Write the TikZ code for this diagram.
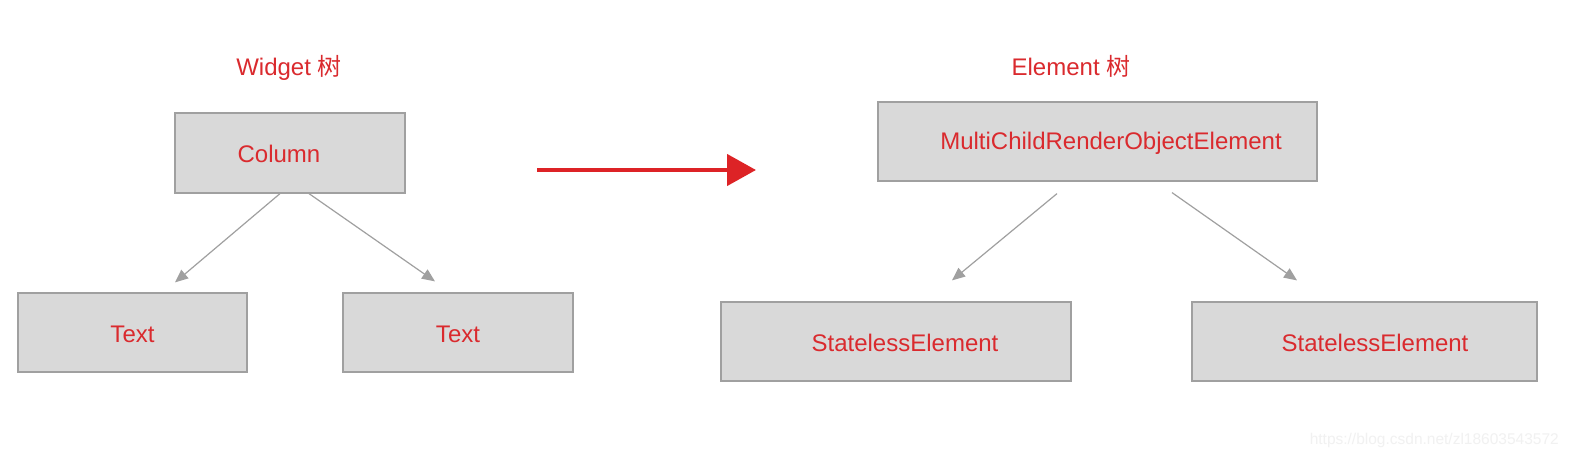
\documentclass[tikz,border=0pt]{standalone}
\usepackage{fontspec}
\setmainfont{Liberation Sans}
\newfontfamily\cjk{Noto Sans CJK SC}
\usetikzlibrary{arrows.meta}
\definecolor{tred}{HTML}{DA2A2E}
\definecolor{ared}{HTML}{DD2326}
\definecolor{bfill}{HTML}{D9D9D9}
\definecolor{bline}{HTML}{A0A0A0}
\definecolor{wm}{HTML}{F1F1F1}
\tikzset{
  box/.style={draw=bline, fill=bfill, line width=1.2pt, inner sep=0pt},
  lbl/.style={text=tred, font=\fontsize{24}{28}\selectfont, inner sep=0pt, anchor=center},
  garrow/.style={draw=bline, line width=1.2pt, -{Triangle[length=13pt,width=11pt]}},
  rarrow/.style={draw=ared, line width=4.5pt, -{Triangle[length=29pt,width=31pt]}}
}
\begin{document}
\begin{tikzpicture}[x=1pt,y=-1pt]
\useasboundingbox (0,0) rectangle (1570,460);
\fill[white] (0,0) rectangle (1570,460);
% left tree
\node[box, minimum width=230pt, minimum height=80pt] (col) at (290,153) {};
\node[box, minimum width=229pt, minimum height=79pt] (t1) at (132.5,332.5) {};
\node[box, minimum width=230pt, minimum height=79pt] (t2) at (458,332.5) {};
\node[lbl] (colT) at (279,154) {Column};
\node[lbl] (t1T) at (132.5,334) {Text};
\node[lbl] (t2T) at (458,334) {Text};
\node[lbl] (wlab) at (289,68) {Widget \cjk{树}};
% right tree
\node[box, minimum width=439pt, minimum height=79pt] (mc) at (1097.5,141.5) {};
\node[box, minimum width=350pt, minimum height=79pt] (s1) at (896,341.5) {};
\node[box, minimum width=345pt, minimum height=79pt] (s2) at (1364.5,341.5) {};
\node[lbl] (mcT) at (1111,143) {MultiChildRenderObjectElement};
\node[lbl] (s1T) at (905,343) {StatelessElement};
\node[lbl] (s2T) at (1375,343) {StatelessElement};
\node[lbl] (elab) at (1071,66) {Element \cjk{树}};
% connectors
\draw[garrow] ([xshift=-10pt]col.south) -- ([xshift=42.5pt,yshift=10pt]t1.north);
\draw[garrow] ([xshift=19pt]col.south) -- ([xshift=-23pt,yshift=11pt]t2.north);
\draw[garrow] ([xshift=-40.5pt,yshift=-12pt]mc.south) -- ([xshift=56pt,yshift=21pt]s1.north);
\draw[garrow] ([xshift=74.5pt,yshift=-11pt]mc.south) -- ([xshift=-67.5pt,yshift=21pt]s2.north);
% big red arrow
\coordinate (ra) at (537,170);
\coordinate (rb) at (756,170);
\draw[rarrow] (ra) -- (rb);
% watermark
\node[text=wm, font=\fontsize{15.5}{18}\selectfont, anchor=east, inner sep=0pt] (wmk) at (1559,440) {https://blog.csdn.net/zl18603543572};
\end{tikzpicture}
\end{document}
